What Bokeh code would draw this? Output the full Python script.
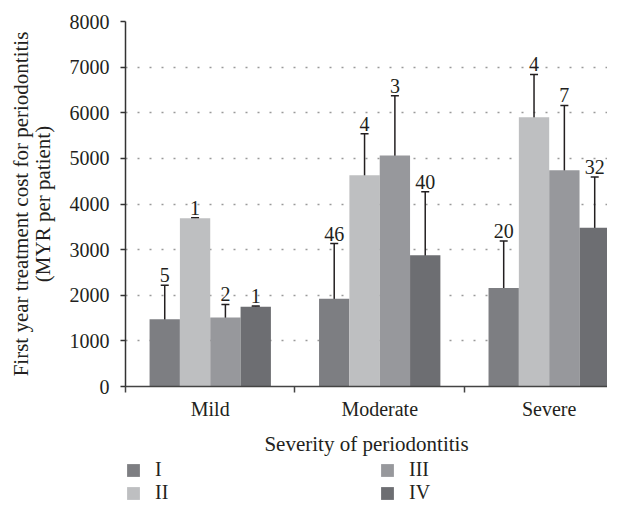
import numpy as np
from bokeh.plotting import figure
from bokeh.layouts import column
from bokeh.models import (ColumnDataSource, Whisker, TeeHead, FixedTicker, Range1d,
                          Legend, LegendItem)
from bokeh.core.properties import value
from bokeh.embed import file_html
from bokeh.resources import INLINE

# ---------------- data ----------------
categories = ["Mild", "Moderate", "Severe"]
stages = ["I", "II", "III", "IV"]

mean_I = [1475, 1922, 2160]
mean_II = [3685, 4632, 5900]
mean_III = [1512, 5065, 4740]
mean_IV = [1750, 2879, 3480]

low_I = [698, 713, 1110]
low_II = [3672, 3720, 4970]
low_III = [1210, 3742, 3330]
low_IV = [1742, 1462, 2380]

up_I = [2218, 3132, 3190]
up_II = [3698, 5540, 6840]
up_III = [1800, 6370, 6160]
up_IV = [1762, 4270, 4590]

n_I = ["5", "46", "20"]
n_II = ["1", "4", "4"]
n_III = ["2", "3", "7"]
n_IV = ["1", "40", "32"]

y_ticks = [0, 1000, 2000, 3000, 4000, 5000, 6000, 7000, 8000]

means = [mean_I, mean_II, mean_III, mean_IV]
lows = [low_I, low_II, low_III, low_IV]
ups = [up_I, up_II, up_III, up_IV]
ns = [n_I, n_II, n_III, n_IV]
colors = ["#7d7e82", "#bebfc1", "#97989c", "#6d6e72"]

TXT = "#231f20"
FONT = "Liberation Serif"
bar_w = 0.179

p = figure(width=607, height=458, output_backend="svg", toolbar_location=None,
           x_range=Range1d(0, 2.844), y_range=Range1d(0, 8000),
           min_border_left=125, min_border_right=0, min_border_top=21,
           min_border_bottom=68)
p.outline_line_color = None
p.background_fill_color = "white"
p.border_fill_color = "white"

for i, st in enumerate(stages):
    xs = [j + 0.5 + (i - 1.5) * bar_w for j in range(len(categories))]
    src = ColumnDataSource(dict(x=xs, top=means[i], lower=lows[i], upper=ups[i], n=ns[i]))
    p.vbar(x="x", top="top", width=bar_w, source=src,
           fill_color=colors[i], line_color=None)
    w = Whisker(source=src, base="x", upper="upper", lower="lower",
                line_color=TXT, line_width=1.5,
                upper_head=TeeHead(size=8, line_color=TXT, line_width=1.5),
                lower_head=TeeHead(size=8, line_color=TXT, line_width=1.5))
    p.add_layout(w)
    p.text(x="x", y="upper", text="n", source=src, text_align="center",
           text_baseline="bottom", y_offset=-3, text_color=TXT,
           text_font=value(FONT), text_font_size="20px")

# y axis
yax = p.yaxis[0]
yax.ticker = FixedTicker(ticks=y_ticks)
yax.axis_line_color = "#333333"
yax.axis_line_width = 1.5
yax.major_tick_line_color = "#333333"
yax.major_tick_line_width = 1.5
yax.major_tick_out = 5
yax.major_tick_in = 0
yax.minor_tick_line_color = None
yax.major_label_standoff = 11
yax.major_label_text_font = FONT
yax.major_label_text_font_size = "20px"
yax.major_label_text_color = TXT
yax.axis_label = "First year treatment cost for periodontitis\n(MYR per patient)"
yax.axis_label_text_font = FONT
yax.axis_label_text_font_size = "21px"
yax.axis_label_text_font_style = "normal"
yax.axis_label_text_color = TXT
yax.axis_label_text_line_height = 0.9
yax.axis_label_standoff = 12

# x axis
xax = p.xaxis[0]
centers = [j + 0.5 for j in range(len(categories))]
xax.ticker = FixedTicker(ticks=centers, minor_ticks=list(range(len(categories) + 1)))
xax.major_label_overrides = {c: lab for c, lab in zip(centers, categories)}
xax.axis_line_color = "#444444"
xax.axis_line_width = 1.5
xax.major_tick_line_color = None
xax.major_tick_out = 0
xax.major_tick_in = 0
xax.minor_tick_line_color = "#444444"
xax.minor_tick_line_width = 1.5
xax.minor_tick_out = 6
xax.minor_tick_in = 0
xax.major_label_standoff = 5
xax.major_label_text_font = FONT
xax.major_label_text_font_size = "20px"
xax.major_label_text_color = TXT
xax.axis_label = "Severity of periodontitis"
xax.axis_label_text_font = FONT
xax.axis_label_text_font_size = "21px"
xax.axis_label_text_font_style = "normal"
xax.axis_label_text_color = TXT
xax.axis_label_standoff = 9

# grid
p.xgrid.visible = False
p.ygrid.grid_line_color = "#9a9a9a"
p.ygrid.grid_line_width = 1.5
p.ygrid.grid_line_dash = "2 10"

# legend strip (separate figure so the legend is not clipped)
lf = figure(width=607, height=45, output_backend="svg", toolbar_location=None,
            x_range=Range1d(0, 1), y_range=Range1d(0, 1),
            x_axis_type=None, y_axis_type=None,
            min_border_left=0, min_border_right=0, min_border_top=0, min_border_bottom=0)
lf.outline_line_color = None
lf.xgrid.visible = False
lf.ygrid.visible = False
# off-screen swatch renderers (only used to draw the legend squares)
lrend = [lf.vbar(x=[-10], top=[-10], width=0.1, fill_color=c, line_color=None) for c in colors]


def make_legend(idx, xloc):
    return Legend(items=[LegendItem(label=stages[k], renderers=[lrend[k]]) for k in idx],
                  location=(xloc, -1), orientation="vertical",
                  border_line_color=None, background_fill_alpha=0,
                  label_text_font=FONT, label_text_font_size="20px",
                  label_text_color=TXT, label_standoff=14,
                  glyph_width=16, glyph_height=16, padding=0, margin=0, spacing=0)


lf.add_layout(make_legend([0, 1], 0))
lf.add_layout(make_legend([2, 3], 254))

layout = column(p, lf, spacing=0)
open("out.html", "w").write(file_html(layout, INLINE))
